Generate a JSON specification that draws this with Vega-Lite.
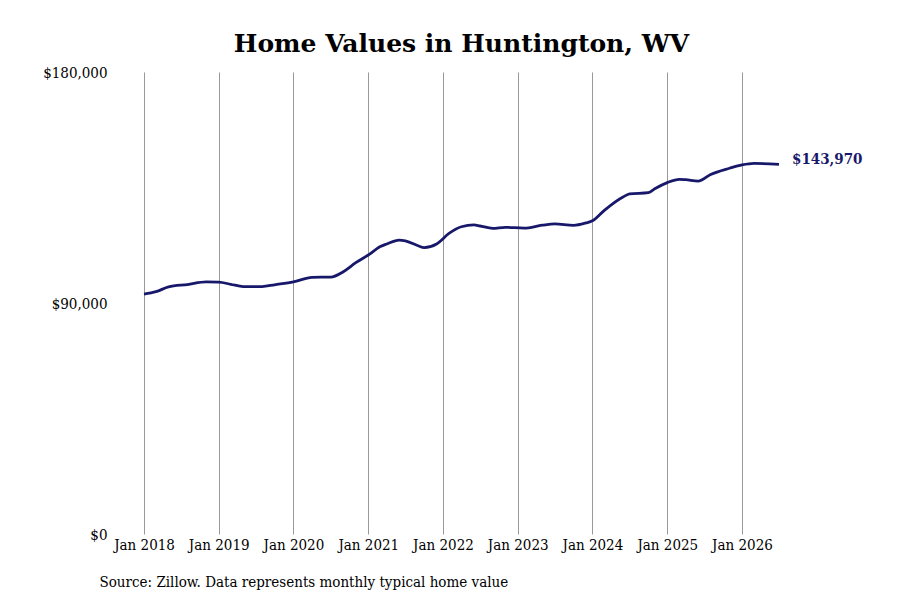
{
  "$schema": "https://vega.github.io/schema/vega-lite/v6.json",
  "width": 635,
  "height": 462,
  "autosize": "none",
  "padding": {"left": 144, "top": 72, "right": 121, "bottom": 66},
  "background": "white",
  "config": {
    "font": "DejaVu Serif Condensed",
    "view": {"stroke": null}
  },
  "title": {
    "text": "Home Values in Huntington, WV",
    "font": "DejaVu Serif",
    "fontSize": 25,
    "fontWeight": "bold",
    "color": "#000000",
    "anchor": "middle",
    "offset": 8
  },
  "data": {
    "values": [
      {"date": "2018-01-01", "value": 93500},
      {"date": "2018-03-01", "value": 94400},
      {"date": "2018-05-01", "value": 96300},
      {"date": "2018-08-01", "value": 97200},
      {"date": "2018-11-01", "value": 98200},
      {"date": "2019-01-01", "value": 98100},
      {"date": "2019-03-01", "value": 97300},
      {"date": "2019-05-01", "value": 96400},
      {"date": "2019-08-01", "value": 96400},
      {"date": "2019-10-01", "value": 97100},
      {"date": "2020-01-01", "value": 98200},
      {"date": "2020-04-01", "value": 100000},
      {"date": "2020-07-01", "value": 100100},
      {"date": "2020-09-01", "value": 102200},
      {"date": "2020-11-01", "value": 105700},
      {"date": "2021-01-01", "value": 108700},
      {"date": "2021-03-01", "value": 112000},
      {"date": "2021-04-01", "value": 113000},
      {"date": "2021-06-01", "value": 114500},
      {"date": "2021-07-01", "value": 114200},
      {"date": "2021-09-01", "value": 112300},
      {"date": "2021-10-01", "value": 111600},
      {"date": "2021-12-01", "value": 113000},
      {"date": "2022-02-01", "value": 117200},
      {"date": "2022-04-01", "value": 119700},
      {"date": "2022-06-01", "value": 120400},
      {"date": "2022-07-01", "value": 120000},
      {"date": "2022-09-01", "value": 119100},
      {"date": "2022-11-01", "value": 119500},
      {"date": "2023-02-01", "value": 119200},
      {"date": "2023-05-01", "value": 120300},
      {"date": "2023-07-01", "value": 120800},
      {"date": "2023-10-01", "value": 120250},
      {"date": "2023-12-01", "value": 121200},
      {"date": "2024-01-01", "value": 122000},
      {"date": "2024-03-01", "value": 126200},
      {"date": "2024-06-01", "value": 131400},
      {"date": "2024-07-01", "value": 132500},
      {"date": "2024-10-01", "value": 133000},
      {"date": "2024-11-01", "value": 134500},
      {"date": "2025-01-01", "value": 136900},
      {"date": "2025-03-01", "value": 138200},
      {"date": "2025-04-01", "value": 138050},
      {"date": "2025-06-01", "value": 137500},
      {"date": "2025-08-01", "value": 140100},
      {"date": "2025-11-01", "value": 142500},
      {"date": "2026-01-01", "value": 143800},
      {"date": "2026-03-01", "value": 144400},
      {"date": "2026-07-01", "value": 143970}
    ]
  },
  "encoding": {
    "x": {
      "field": "date",
      "type": "temporal",
      "scale": {"domain": [{"year": 2018, "month": 1, "date": 1}, {"year": 2026, "month": 7, "date": 1}]},
      "axis": {
        "values": [
          {"year": 2018, "month": 1, "date": 1},
          {"year": 2019, "month": 1, "date": 1},
          {"year": 2020, "month": 1, "date": 1},
          {"year": 2021, "month": 1, "date": 1},
          {"year": 2022, "month": 1, "date": 1},
          {"year": 2023, "month": 1, "date": 1},
          {"year": 2024, "month": 1, "date": 1},
          {"year": 2025, "month": 1, "date": 1},
          {"year": 2026, "month": 1, "date": 1}
        ],
        "format": "%b %Y",
        "grid": true,
        "gridColor": "#999999",
        "gridWidth": 1,
        "domain": false,
        "ticks": false,
        "labelPadding": 3,
        "labelFontSize": 15,
        "labelColor": "#000000",
        "labelFlush": false,
        "labelOverlap": false,
        "title": "Source: Zillow. Data represents monthly typical home value",
        "titleAnchor": "start",
        "titleAlign": "left",
        "titleBaseline": "alphabetic",
        "titleX": -45,
        "titleY": 52,
        "titleFontSize": 15,
        "titleFontWeight": "normal",
        "titleColor": "#000000"
      }
    },
    "y": {
      "field": "value",
      "type": "quantitative",
      "scale": {"domain": [0, 180000], "nice": false, "zero": true},
      "axis": {
        "values": [0, 90000, 180000],
        "format": "$,.0f",
        "grid": false,
        "domain": false,
        "ticks": false,
        "labelPadding": 37,
        "labelFontSize": 15,
        "labelColor": "#000000",
        "title": null
      }
    }
  },
  "layer": [
    {
      "mark": {"type": "line", "interpolate": "monotone", "color": "#18186b", "strokeWidth": 2.8}
    },
    {
      "transform": [{"filter": "year(datum.date) == 2026 && month(datum.date) >= 5"}],
      "mark": {
        "type": "text",
        "align": "left",
        "baseline": "middle",
        "dx": 13,
        "dy": -5,
        "fontSize": 15,
        "fontWeight": "bold",
        "color": "#18186b"
      },
      "encoding": {
        "text": {"field": "value", "type": "quantitative", "format": "$,.0f"}
      }
    }
  ]
}
